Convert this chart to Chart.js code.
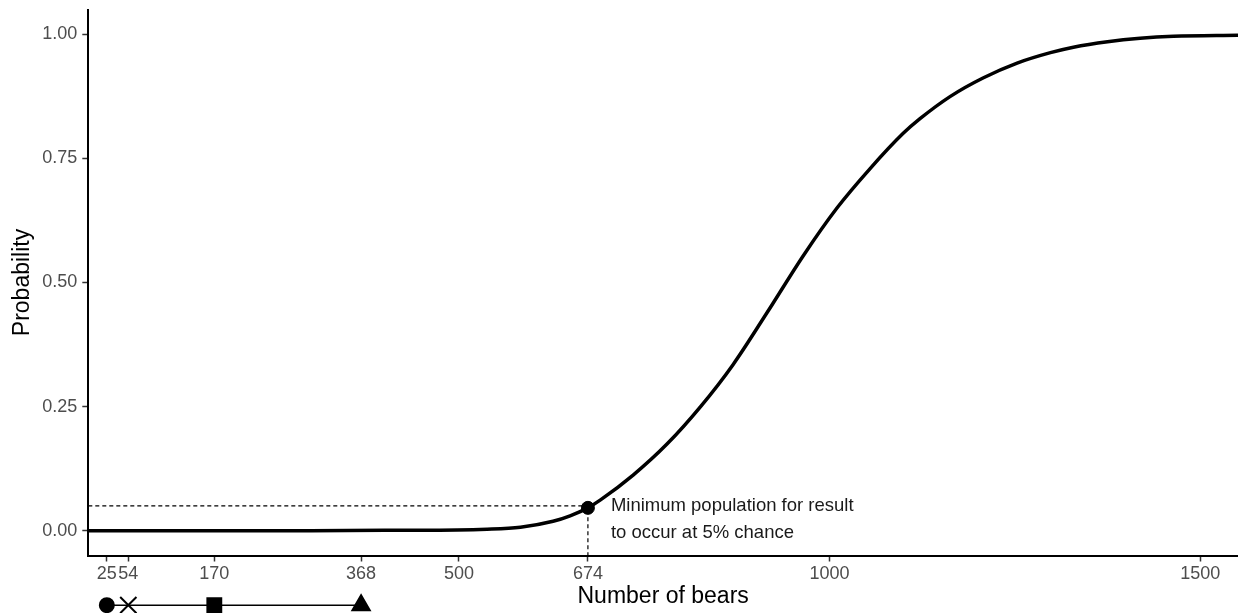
<!DOCTYPE html>
<html>
<head>
<meta charset="utf-8">
<script src="https://cdn.jsdelivr.net/npm/chart.js@4.4.1/dist/chart.umd.min.js"></script>
<style>
  html, body { margin: 0; padding: 0; background: #fff; }
  #wrap { width: 1238px; height: 613px; }
</style>
</head>
<body>
<div id="wrap"><canvas id="bears" width="1238" height="613"></canvas></div>
<script>
// curve
const bearCounts = [0, 100, 200, 300, 400, 448, 538, 583, 627, 650, 674, 691, 735, 781, 826, 870, 916, 965, 1010, 1055, 1099, 1122, 1163, 1207, 1253, 1298, 1329, 1375, 1419, 1464, 1551];
const probabilities = [0, 0, 0, 0, 0.001, 0.001, 0.003, 0.007, 0.019, 0.030, 0.046, 0.062, 0.112, 0.175, 0.250, 0.335, 0.440, 0.555, 0.650, 0.730, 0.800, 0.830, 0.875, 0.912, 0.942, 0.963, 0.974, 0.985, 0.992, 0.996, 0.998];

const xTickValues = [25, 54, 170, 368, 500, 674, 1000, 1500];
const yTickValues = [0, 0.25, 0.5, 0.75, 1];

// threshold point (5% chance)
const thresholdBears = 674;
const thresholdProb = 0.05;
const thresholdCurveProb = 0.046;

// marker row under the axis
const markerBears = [25, 54, 170, 368];
const markerShapes = ['circle', 'crossRot', 'rect', 'triangle'];
const markerSizes = [7, 11.5, 9.8, 10];
const markerRowLevel = -0.15;

const noteLines = ['Minimum population for result', 'to occur at 5% chance'];

const FONT = '"Liberation Sans", Arial, Helvetica, sans-serif';
Chart.defaults.font.family = FONT;

const notePlugin = {
  id: 'note',
  afterDatasetsDraw(chart) {
    const { ctx, scales: { x, y } } = chart;
    // marker row sits below the axis, so draw its points without the chart area check
    const rowMeta = chart.getDatasetMeta(3);
    const wide = { left: -1e4, right: 1e4, top: -1e4, bottom: 1e4 };
    rowMeta.data.forEach(pt => pt.draw(ctx, wide));

    const px = x.getPixelForValue(thresholdBears) + 23;
    const py = y.getPixelForValue(thresholdProb);
    ctx.save();
    ctx.font = '18.5px ' + FONT;
    ctx.fillStyle = '#1a1a1a';
    ctx.textBaseline = 'middle';
    noteLines.forEach((t, i) => ctx.fillText(t, px, py + i * 27));
    ctx.restore();
  }
};

new Chart(document.getElementById('bears'), {
  type: 'line',
  data: {
    datasets: [
      {
        data: bearCounts.map((b, i) => ({ x: b, y: probabilities[i] })),
        borderColor: '#000',
        borderWidth: 3.5,
        pointRadius: 0,
        cubicInterpolationMode: 'monotone',
        fill: false
      },
      {
        data: [{ x: thresholdBears, y: thresholdCurveProb }],
        showLine: false,
        pointRadius: 6.5,
        pointBackgroundColor: '#000',
        pointBorderColor: '#000'
      },
      {
        data: [
          { x: 0, y: thresholdProb },
          { x: thresholdBears, y: thresholdProb },
          { x: thresholdBears, y: -0.05 }
        ],
        borderColor: '#000',
        borderWidth: 1.2,
        borderDash: [4, 3],
        pointRadius: 0,
        tension: 0
      },
      {
        data: markerBears.map(b => ({ x: b, y: markerRowLevel })),
        clip: false,
        borderColor: '#000',
        borderWidth: 1.5,
        tension: 0,
        pointStyle: markerShapes,
        pointRadius: markerSizes,
        pointBackgroundColor: '#000',
        pointBorderColor: '#000',
        pointBorderWidth: 2
      }
    ]
  },
  options: {
    responsive: false,
    animation: false,
    devicePixelRatio: 1,
    layout: { autoPadding: false, padding: { top: 9.5, right: 0, left: 0, bottom: 0 } },
    plugins: { legend: { display: false }, tooltip: { enabled: false } },
    scales: {
      x: {
        type: 'linear',
        min: 0,
        max: 1551,
        afterBuildTicks: s => { s.ticks = xTickValues.map(v => ({ value: v })); },
        afterFit: s => { s.height = 57.5; s.paddingLeft = 0; s.paddingRight = 0; },
        grid: { drawOnChartArea: false, drawTicks: true, tickLength: 6, tickWidth: 1.5, tickColor: '#333' },
        border: { display: true, color: '#000', width: 2 },
        ticks: { autoSkip: false, maxRotation: 0, padding: 2, color: '#4d4d4d', font: { size: 18 }, callback: v => String(v) },
        title: { display: true, text: 'Number of bears', color: '#000', font: { size: 23 }, padding: { top: 0, bottom: 3 } }
      },
      y: {
        type: 'linear',
        min: -0.05,
        max: 1.05,
        afterBuildTicks: s => { s.ticks = yTickValues.map(v => ({ value: v })); },
        afterFit: s => { s.width = 88.3; s.paddingTop = 0; s.paddingBottom = 0; },
        grid: { drawOnChartArea: false, drawTicks: true, tickLength: 6, tickWidth: 1.5, tickColor: '#333' },
        border: { display: true, color: '#000', width: 2 },
        ticks: { padding: 5, color: '#4d4d4d', font: { size: 18 }, callback: v => v.toFixed(2) },
        title: { display: true, text: 'Probability', color: '#000', font: { size: 23 }, padding: { top: 9, bottom: 0 } }
      }
    }
  },
  plugins: [notePlugin]
});
</script>
</body>
</html>
